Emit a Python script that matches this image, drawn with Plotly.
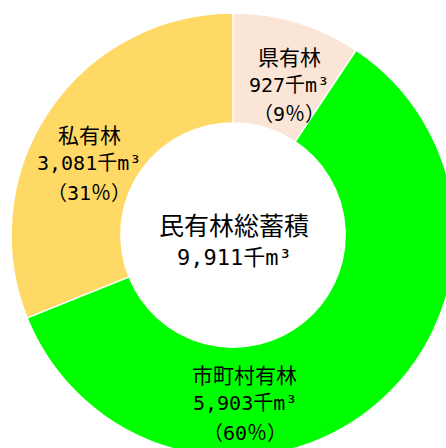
import plotly.graph_objects as go

categories = ["県有林", "市町村有林", "私有林"]
values = [927, 5903, 3081]
percents = [9, 60, 31]
colors = ["#FBE5D6", "#00FF00", "#FFD966"]
total_label = "民有林総蓄積"
total_value = sum(values)
unit = "千m³"

W, H = 460, 462
L, T, SIZE = 11, 13, 444

fig = go.Figure(go.Pie(
    labels=categories,
    values=values,
    hole=0.505,
    sort=False,
    direction="clockwise",
    rotation=0,
    marker=dict(colors=colors, line=dict(color="white", width=1.5)),
    textinfo="none",
    hoverinfo="label+value+percent",
    showlegend=False,
    domain=dict(x=[0, 1], y=[0, 1]),
))

CJK = "Noto Sans CJK JP"
NUM = "DejaVu Sans Mono, Noto Sans CJK JP"

def px2paper(px, py):
    return (px - L) / SIZE, 1 - (py - T) / SIZE

# label line centres (page pixels) for each slice
label_pos = {
    "県有林": (289, [56, 85, 114]),
    "市町村有林": (245, [374, 403, 433]),
    "私有林": (89, [134, 163, 193]),
}

annotations = []
def add(text, px, py, family, size):
    x, y = px2paper(px, py)
    annotations.append(dict(
        x=x, y=y, xref="paper", yref="paper", text=text, showarrow=False,
        xanchor="center", yanchor="middle",
        font=dict(family=family, size=size, color="#000000"),
    ))

for cat, val, pct in zip(categories, values, percents):
    cx, ys = label_pos[cat]
    add(cat, cx, ys[0], CJK, 21)
    add(f"{val:,}{unit}", cx, ys[1], NUM, 20)
    add(f"（{pct}％）", cx, ys[2], NUM, 20)

add(total_label, 234, 224, CJK, 25)
add(f"{total_value:,}{unit}", 234, 257, NUM, 22)

fig.update_layout(
    width=W, height=H, autosize=False,
    margin=dict(l=L, r=W - L - SIZE, t=T, b=H - T - SIZE, pad=0),
    paper_bgcolor="white", plot_bgcolor="white",
    annotations=annotations,
)

fig.write_html(
    "out.html",
    config={"displayModeBar": False},
    post_script="document.body.style.margin='0';document.body.style.overflow='hidden';document.documentElement.style.overflow='hidden';",
)
